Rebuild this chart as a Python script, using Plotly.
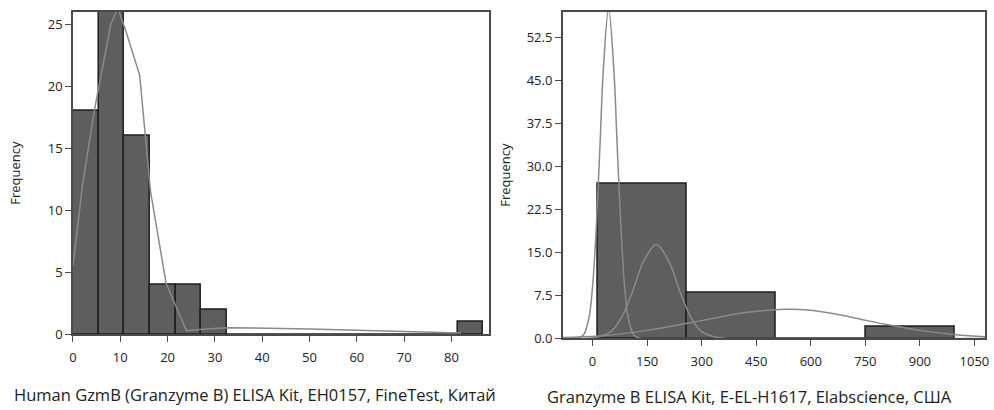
import plotly.graph_objects as go

# ---------------- data ----------------
# Left histogram (FineTest)
left_bin_start = 0.0
left_bin_width = 5.42
left_counts = [18, 26, 16, 4, 4, 2, 0, 0, 0, 0, 0, 0, 0, 0, 0, 1]
left_curve_x = [0, 2, 4.5, 6.1, 8, 9.5, 11.3, 14.1, 16.4, 19.7, 24, 28, 33, 50, 70, 82]
left_curve_y = [5.5, 12.0, 18.0, 21.3, 25.0, 26.3, 24.3, 20.9, 11.5, 4.1, 0.3, 0.45, 0.55, 0.45, 0.25, 0.12]
left_yticks = [0, 5, 10, 15, 20, 25]
left_xticks = [0, 10, 20, 30, 40, 50, 60, 70, 80]

# Right histogram (Elabscience)
right_bin_edges = [15, 260, 505, 750, 995]
right_counts = [27, 8, 0, 2]
narrow_x = [-82, -40, -25, -10, 0, 10, 20, 30, 44, 58, 68, 78, 88, 98, 113, 128, 160, 1080]
narrow_y = [0.0, 0.07, 0.6, 3.6, 9.1, 19.2, 33.1, 47.4, 57.5, 47.4, 33.1, 19.2, 9.1, 3.6, 0.6, 0.07, 0.0, 0.0]
medium_x = [-82, 0, 50, 80, 110, 140, 175, 210, 240, 270, 300, 350, 1080]
medium_y = [0.0, 0.1, 1.2, 3.7, 8.2, 13.4, 16.4, 13.4, 8.2, 3.7, 1.2, 0.1, 0.0]
wide_x = [-82, 18, 150, 300, 420, 530, 600, 681, 755, 827, 900, 1000, 1080]
wide_y = [0.15, 0.4, 1.4, 3.1, 4.5, 5.1, 4.9, 4.1, 3.1, 2.2, 1.4, 0.65, 0.3]
right_yticks = [0, 7.5, 15, 22.5, 30, 37.5, 45, 52.5]
right_ytick_text = ["0.0", "7.5", "15.0", "22.5", "30.0", "37.5", "45.0", "52.5"]
right_xticks = [0, 150, 300, 450, 600, 750, 900, 1050]

left_caption = "Human GzmB (Granzyme B) ELISA Kit, EH0157, FineTest, Китай"
right_caption = "Granzyme B ELISA Kit, E-EL-H1617, Elabscience, США"

# ---------------- styles ----------------
BAR_FILL = "#5e5e5e"
BAR_LINE = "#1e1e1e"
CURVE = "#8a8a8a"
FRAME = "#4a4a4a"
TEXT = "#222222"
FONT = "Open Sans"

fig = go.Figure()

# left bars
left_centers = [left_bin_start + left_bin_width * (i + 0.5) for i in range(len(left_counts))]
fig.add_trace(go.Bar(
    x=left_centers, y=left_counts, width=[left_bin_width] * len(left_counts),
    marker=dict(color=BAR_FILL, line=dict(color=BAR_LINE, width=1.5)),
    xaxis="x", yaxis="y", showlegend=False, hoverinfo="skip"))
fig.add_trace(go.Scatter(
    x=left_curve_x, y=left_curve_y, mode="lines",
    line=dict(color=CURVE, width=1.5),
    xaxis="x", yaxis="y", showlegend=False, hoverinfo="skip"))

# right bars
right_centers = [(a + b) / 2 for a, b in zip(right_bin_edges[:-1], right_bin_edges[1:])]
right_widths = [b - a for a, b in zip(right_bin_edges[:-1], right_bin_edges[1:])]
fig.add_trace(go.Bar(
    x=right_centers, y=right_counts, width=right_widths,
    marker=dict(color=BAR_FILL, line=dict(color=BAR_LINE, width=1.5)),
    xaxis="x2", yaxis="y2", showlegend=False, hoverinfo="skip"))
for cx, cy in [(narrow_x, narrow_y), (medium_x, medium_y), (wide_x, wide_y)]:
    fig.add_trace(go.Scatter(
        x=cx, y=cy, mode="lines",
        line=dict(color=CURVE, width=1.5, shape="spline", smoothing=1.0),
        xaxis="x2", yaxis="y2", showlegend=False, hoverinfo="skip"))

W, H = 994, 410
def px(v):
    return v / W
def py(v):
    return (H - v) / H

axis_common = dict(
    showgrid=False, zeroline=False, showline=True, linecolor=FRAME, linewidth=1.5,
    mirror=True, ticks="outside", ticklen=6, tickwidth=1.2, tickcolor=FRAME,
    tickfont=dict(family=FONT, size=13, color=TEXT),
)
ytitle_font = dict(family=FONT, size=13, color=TEXT)

fig.update_layout(
    width=W, height=H, autosize=False,
    margin=dict(l=0, r=0, t=0, b=0),
    paper_bgcolor="white", plot_bgcolor="white",
    bargap=0,
    font=dict(family=FONT, color=TEXT),
    xaxis=dict(domain=[px(69.5), px(489.3)], range=[0, 88],
               tickmode="array", tickvals=left_xticks, anchor="y",
               ticklabelstandoff=4, **axis_common),
    yaxis=dict(domain=[py(342), py(12)], range=[0, 26],
               tickmode="array", tickvals=left_yticks, anchor="x",
               title=dict(text="Frequency", font=ytitle_font, standoff=24),
               **axis_common),
    xaxis2=dict(domain=[px(563.3), px(989.3)], range=[-82, 1080],
                tickmode="array", tickvals=right_xticks, anchor="y2",
                ticklabelstandoff=4, **axis_common),
    yaxis2=dict(domain=[py(346), py(12)], range=[0, 57],
                tickmode="array", tickvals=right_yticks, ticktext=right_ytick_text, anchor="x2",
                title=dict(text="Frequency", font=ytitle_font, standoff=13),
                **axis_common),
    annotations=[
        dict(text=left_caption, x=px(253.5), y=py(403), xref="paper", yref="paper",
             showarrow=False, xanchor="center", yanchor="middle",
             font=dict(family=FONT, size=16.5, color=TEXT)),
        dict(text=right_caption, x=px(751.5), y=py(405), xref="paper", yref="paper",
             showarrow=False, xanchor="center", yanchor="middle",
             font=dict(family=FONT, size=16.5, color=TEXT)),
    ],
)

fig.write_html(
    "out.html",
    config={"displayModeBar": False, "responsive": False},
    default_width="994px", default_height="410px",
    post_script="document.body.style.margin='0px';document.body.style.overflow='hidden';",
)
